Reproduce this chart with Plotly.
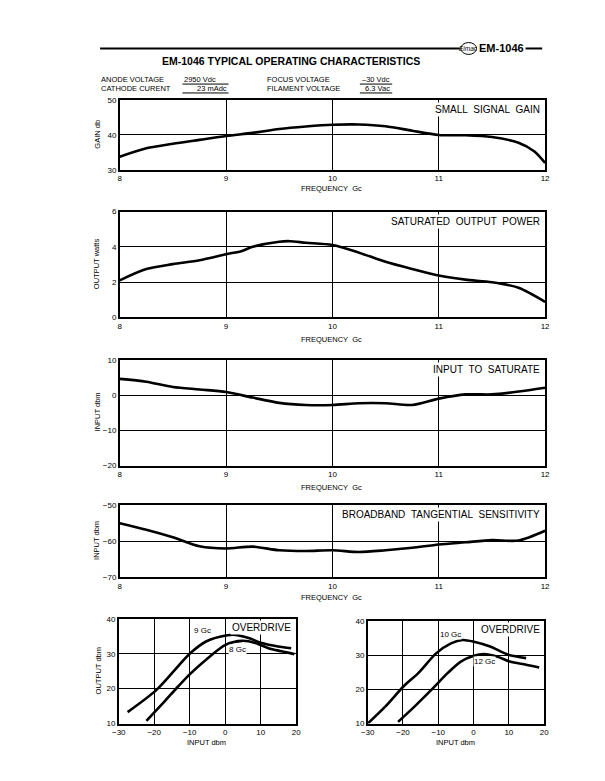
import plotly.graph_objects as go

# ---------------- data ----------------
freq = [8.0, 8.25, 8.5, 8.75, 9.0, 9.25, 9.5, 9.75, 10.0, 10.25, 10.5, 10.75, 11.0, 11.25, 11.5, 11.75, 11.9, 12.0]
gain_db = [33.8, 36.2, 37.5, 38.6, 39.7, 40.6, 41.7, 42.4, 42.9, 43.0, 42.5, 41.2, 40.0, 39.9, 39.4, 37.8, 35.3, 32.0]

freq_p = [8.0, 8.25, 8.5, 8.75, 9.0, 9.15, 9.25, 9.5, 9.6, 9.75, 10.0, 10.25, 10.5, 10.75, 11.0, 11.25, 11.5, 11.75, 12.0]
output_w = [2.1, 2.74, 3.02, 3.24, 3.58, 3.77, 4.0, 4.29, 4.32, 4.23, 4.1, 3.67, 3.15, 2.74, 2.37, 2.14, 1.99, 1.68, 0.88]

freq_s = [8.0, 8.25, 8.5, 8.75, 9.0, 9.25, 9.5, 9.75, 10.0, 10.25, 10.5, 10.75, 11.0, 11.25, 11.5, 11.75, 12.0]
input_sat = [4.6, 3.8, 2.3, 1.6, 0.9, -0.7, -2.2, -2.8, -2.8, -2.3, -2.3, -2.8, -1.0, 0.2, 0.2, 1.0, 2.1]
tss = [-55.0, -56.8, -58.9, -61.4, -62.0, -61.5, -62.5, -62.7, -62.5, -63.0, -62.5, -61.8, -60.9, -60.3, -59.7, -59.8, -57.1]

in_9 = [-27.5, -19.2, -10.0, -5.4, 0.2, 2.9, 6.6, 10.3, 14.9, 18.6]
out_9 = [13.3, 19.8, 30.0, 33.5, 35.2, 35.4, 34.5, 33.1, 32.1, 31.6]
in_8 = [-22.2, -17.4, -13.2, -10.0, -5.4, 0.2, 4.8, 8.5, 12.2, 15.9, 19.5]
out_8 = [10.8, 16.0, 20.7, 24.1, 28.3, 32.6, 33.7, 33.1, 31.6, 30.7, 29.9]
in_10 = [-30.0, -24.9, -19.8, -15.6, -10.6, -6.4, -3.1, 0.1, 4.7, 9.8, 14.9]
out_10 = [10.0, 15.1, 20.9, 24.8, 30.5, 33.4, 34.4, 33.9, 32.5, 30.1, 29.1]
in_12 = [-21.4, -16.6, -11.9, -7.3, -3.6, 0.1, 2.9, 6.6, 10.3, 14.9, 18.6]
out_12 = [10.5, 15.1, 19.9, 24.8, 28.1, 29.8, 30.3, 29.6, 28.1, 27.2, 26.4]

freq_ticks = [8, 9, 10, 11, 12]
drive_ticks = [-30, -20, -10, 0, 10, 20]

W, H = 605, 781
FONT = "Liberation Sans"


def px(x):
    return x / W


def py(y):
    return 1 - y / H


fig = go.Figure()

line = dict(color="black", width=2.6, shape="spline", smoothing=0.8)

panels = [
    ("", freq, gain_db, [30, 50], [30, 40, 50], (115, 549), (97, 168)),
    ("2", freq_p, output_w, [0, 6], [0, 2, 4, 6], (115, 549), (210, 317)),
    ("3", freq_s, input_sat, [-20, 10], [-20, -10, 0, 10], (115, 549), (360, 467)),
    ("4", freq_s, tss, [-70, -50], [-70, -60, -50], (115, 549), (507, 580)),
]

for suf, xs, ys, yr, yt, (x0, x1), (y0, y1) in panels:
    fig.add_trace(go.Scatter(x=xs, y=ys, mode="lines", line=line,
                             xaxis="x" + suf, yaxis="y" + suf, showlegend=False))
    axcommon = dict(showgrid=True, gridcolor="black", gridwidth=1, showline=True,
                    linecolor="black", linewidth=1.5, mirror=True, zeroline=False,
                    ticks="", tickfont=dict(family=FONT, size=8, color="black"))
    fig.layout["xaxis" + suf] = dict(axcommon, domain=[px(x0), px(x1)], range=[8, 12],
                                     tickvals=freq_ticks, anchor="y" + suf)
    fig.layout["yaxis" + suf] = dict(axcommon, domain=[py(y1), py(y0)], range=yr,
                                     tickvals=yt, anchor="x" + suf)

od = [
    ("5", [(in_9, out_9), (in_8, out_8)], (114, 295), (622, 728)),
    ("6", [(in_10, out_10), (in_12, out_12)], (368, 548), (624, 728)),
]
for suf, curves, (x0, x1), (y0, y1) in od:
    for xs, ys in curves:
        fig.add_trace(go.Scatter(x=xs, y=ys, mode="lines", line=line,
                                 xaxis="x" + suf, yaxis="y" + suf, showlegend=False))
    axcommon = dict(showgrid=True, gridcolor="black", gridwidth=1, showline=True,
                    linecolor="black", linewidth=1.5, mirror=True, zeroline=False,
                    ticks="", tickfont=dict(family=FONT, size=8, color="black"))
    fig.layout["xaxis" + suf] = dict(axcommon, domain=[px(x0), px(x1)], range=[-30, 20],
                                     tickvals=drive_ticks, anchor="y" + suf)
    fig.layout["yaxis" + suf] = dict(axcommon, domain=[py(y1), py(y0)], range=[10, 40],
                                     tickvals=[10, 20, 30, 40], anchor="x" + suf)

ann = []


def txt(x, y, s, size=8, xanchor="center", yanchor="middle", bold=False, bg=None, angle=0):
    d = dict(x=px(x), y=py(y), xref="paper", yref="paper", text=("<b>%s</b>" % s) if bold else s,
             showarrow=False, xanchor=xanchor, yanchor=yanchor, textangle=angle,
             font=dict(family=FONT, size=size, color="black"))
    if bg:
        d["bgcolor"] = bg
        d["borderpad"] = 1
    ann.append(d)


NB = "\u00a0"
# Header
txt(505, 45, "EM-1046", size=11, bold=True)
txt(471, 45, "<i>Eimac</i>", size=6.5)
txt(290, 58, ("EM-1046" + NB + "TYPICAL" + NB + "OPERATING" + NB + "CHARACTERISTICS"), size=10.5, bold=True)
txt(94, 76.5, "ANODE VOLTAGE", size=7.5, xanchor="left")
txt(94, 85.5, "CATHODE CURENT", size=7.5, xanchor="left")
txt(179, 76.5, "2950 Vdc", size=7.5, xanchor="left")
txt(226, 85.5, "23 mAdc", size=7.5, xanchor="right")
txt(263, 76.5, "FOCUS VOLTAGE", size=7.5, xanchor="left")
txt(263, 85.5, "FILAMENT VOLTAGE", size=7.5, xanchor="left")
txt(393, 76.5, "\u201330 Vdc", size=7.5, xanchor="right")
txt(393, 85.5, "6.3 Vac", size=7.5, xanchor="right")

S2 = NB * 2
txt(546, 99, "SMALL" + S2 + "SIGNAL" + S2 + "GAIN", size=10, xanchor="right", yanchor="top", bg="white")
txt(546, 212, "SATURATED" + S2 + "OUTPUT" + S2 + "POWER", size=10, xanchor="right", yanchor="top", bg="white")
txt(546, 362, "INPUT" + S2 + "TO" + S2 + "SATURATE", size=10, xanchor="right", yanchor="top", bg="white")
txt(546, 509, "BROADBAND" + S2 + "TANGENTIAL" + S2 + "SENSITIVITY", size=10, xanchor="right", yanchor="top", bg="white")
txt(292, 623, "OVERDRIVE", size=10, xanchor="right", yanchor="top", bg="white")
txt(546, 625, "OVERDRIVE", size=10, xanchor="right", yanchor="top", bg="white")

for yc in (187, 339, 489, 600):
    txt(331, yc, "FREQUENCY" + S2 + "Gc", size=7.5)
txt(204, 747, "INPUT dbm", size=7.5)
txt(458, 747, "INPUT dbm", size=7.5)
txt(92, 132, "GAIN db", size=7.5, angle=-90)
txt(92, 263, "OUTPUT watts", size=7.5, angle=-90)
txt(92, 413, "INPUT dbm", size=7.5, angle=-90)
txt(92, 543, "INPUT dbm", size=7.5, angle=-90)
txt(93, 675, "OUTPUT dbm", size=7.5, angle=-90)

for xr, yr_, x, y, s in [("x5", "y5", -6.3, 36.6, "9 Gc"), ("x5", "y5", 3.6, 31.3, "8 Gc"),
                         ("x6", "y6", -6.4, 36.0, "10 Gc"), ("x6", "y6", 3.2, 28.2, "12 Gc")]:
    ann.append(dict(x=x, y=y, xref=xr, yref=yr_, text=s, showarrow=False,
                    font=dict(family=FONT, size=8, color="black"), bgcolor="white", borderpad=0))

shapes = [
    dict(type="line", xref="paper", yref="paper", x0=px(95), x1=px(462), y0=py(45), y1=py(45),
         line=dict(color="black", width=2)),
    dict(type="line", xref="paper", yref="paper", x0=px(529), x1=px(546), y0=py(45), y1=py(45),
         line=dict(color="black", width=2)),
    dict(type="circle", xref="paper", yref="paper", x0=px(463), x1=px(479), y0=py(51), y1=py(39),
         line=dict(color="black", width=1)),
    dict(type="line", xref="paper", yref="paper", x0=px(179), x1=px(226), y0=py(81), y1=py(81),
         line=dict(color="black", width=1)),
    dict(type="line", xref="paper", yref="paper", x0=px(179), x1=px(226), y0=py(90), y1=py(90),
         line=dict(color="black", width=1)),
    dict(type="line", xref="paper", yref="paper", x0=px(360), x1=px(393), y0=py(81), y1=py(81),
         line=dict(color="black", width=1)),
    dict(type="line", xref="paper", yref="paper", x0=px(360), x1=px(393), y0=py(90), y1=py(90),
         line=dict(color="black", width=1)),
]

fig.update_layout(width=W, height=H, margin=dict(l=0, r=0, t=0, b=0),
                  paper_bgcolor="white", plot_bgcolor="white",
                  annotations=ann, shapes=shapes, showlegend=False,
                  font=dict(family=FONT, color="black"))

fig.write_html("out.html")
